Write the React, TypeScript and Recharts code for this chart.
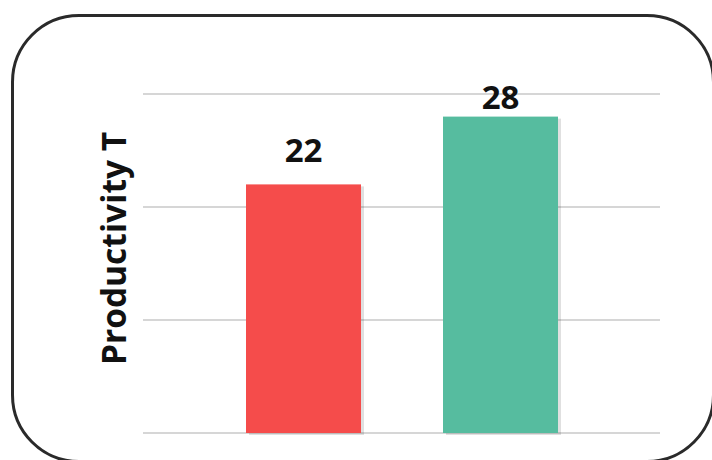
import React from 'react';
import { BarChart, Bar, XAxis, YAxis, CartesianGrid, LabelList, Label } from 'recharts';

const categories = [''];
const seriesA = [22];
const seriesB = [28];
const yTicks = [0, 10, 20, 30];
const yTitle = 'Productivity T';

const data = categories.map((c, i) => ({ name: c, a: seriesA[i], b: seriesB[i] }));

const FONT = '"Open Sans", "DejaVu Sans", sans-serif';

const shadowShape = (fill: string) => (props: any) => {
  const { x, y, width, height } = props;
  return (
    <g>
      <rect x={x + 3} y={y + 2} width={width} height={height} fill="#000" opacity={0.12} />
      <rect x={x} y={y} width={width} height={height} fill={fill} />
    </g>
  );
};

const renderYTitle = (props: any) => {
  const vb = props.viewBox || {};
  const cx = vb.x + 53;
  const cy = vb.y + vb.height / 2 - 15;
  return (
    <text
      x={cx}
      y={cy}
      transform={`rotate(-90, ${cx}, ${cy})`}
      textAnchor="middle"
      dominantBaseline="central"
      fontFamily={FONT}
      fontWeight={700}
      fontSize={33.5}
      fill="#111"
    >
      {yTitle}
    </text>
  );
};

export default function App() {
  return (
    <div style={{ position: 'absolute', left: 0, top: 0, width: 712, height: 460, overflow: 'hidden', background: '#fff' }}>
      <div
        style={{
          position: 'absolute',
          left: 11,
          top: 14,
          width: 704,
          height: 449,
          border: '3px solid #2a2a2a',
          borderRadius: 68,
          boxSizing: 'border-box',
        }}
      />
      <div style={{ position: 'absolute', left: 0, top: 0 }}>
        <BarChart
          width={712}
          height={460}
          data={data}
          margin={{ top: 94, right: 52, bottom: 27, left: 60 }}
          barGap={82}
          barSize={115}
        >
          <CartesianGrid vertical={false} stroke="#d6d6d6" strokeWidth={2} />
          <XAxis dataKey="name" hide />
          <YAxis
            domain={[0, 30]}
            ticks={yTicks}
            width={83}
            tickFormatter={() => ''}
            axisLine={false}
            tickLine={false}
          >
            <Label content={renderYTitle} />
          </YAxis>
          <Bar dataKey="a" fill="#f54c4b" isAnimationActive={false} shape={shadowShape('#f54c4b')}>
            <LabelList
              dataKey="a"
              position="top"
              offset={22}
              fill="#111"
              fontFamily={FONT}
              fontWeight={700}
              fontSize={33}
            />
          </Bar>
          <Bar dataKey="b" fill="#56bc9f" isAnimationActive={false} shape={shadowShape('#56bc9f')}>
            <LabelList
              dataKey="b"
              position="top"
              offset={8}
              fill="#111"
              fontFamily={FONT}
              fontWeight={700}
              fontSize={33}
            />
          </Bar>
        </BarChart>
      </div>
    </div>
  );
}
